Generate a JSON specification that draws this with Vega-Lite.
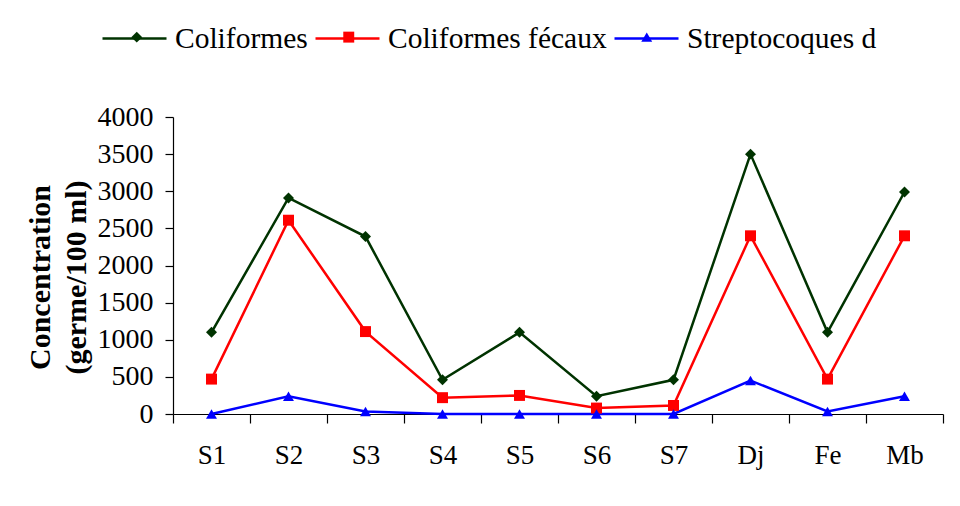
{
  "$schema": "https://vega.github.io/schema/vega-lite/v6.json",
  "width": 770,
  "height": 297,
  "autosize": {"type": "none"},
  "padding": {"left": 173, "top": 117, "right": 17, "bottom": 92},
  "background": "white",
  "config": {
    "view": {"stroke": null},
    "font": "Liberation Serif",
    "axis": {"grid": false, "labelFont": "Liberation Serif", "titleFont": "Liberation Serif", "labelColor": "black", "titleColor": "black", "domainColor": "black", "tickColor": "black", "domainWidth": 1.2, "tickWidth": 1.2}
  },
  "data": {
    "values": [
      {"site": "S1", "series": "Coliformes", "value": 1100},
      {"site": "S2", "series": "Coliformes", "value": 2910},
      {"site": "S3", "series": "Coliformes", "value": 2390},
      {"site": "S4", "series": "Coliformes", "value": 460},
      {"site": "S5", "series": "Coliformes", "value": 1100},
      {"site": "S6", "series": "Coliformes", "value": 240},
      {"site": "S7", "series": "Coliformes", "value": 460},
      {"site": "Dj", "series": "Coliformes", "value": 3500},
      {"site": "Fe", "series": "Coliformes", "value": 1100},
      {"site": "Mb", "series": "Coliformes", "value": 2990},
      {"site": "S1", "series": "Coliformes fécaux", "value": 470},
      {"site": "S2", "series": "Coliformes fécaux", "value": 2610},
      {"site": "S3", "series": "Coliformes fécaux", "value": 1110},
      {"site": "S4", "series": "Coliformes fécaux", "value": 220},
      {"site": "S5", "series": "Coliformes fécaux", "value": 250},
      {"site": "S6", "series": "Coliformes fécaux", "value": 80},
      {"site": "S7", "series": "Coliformes fécaux", "value": 115},
      {"site": "Dj", "series": "Coliformes fécaux", "value": 2400},
      {"site": "Fe", "series": "Coliformes fécaux", "value": 470},
      {"site": "Mb", "series": "Coliformes fécaux", "value": 2400},
      {"site": "S1", "series": "Streptocoques d", "value": 0},
      {"site": "S2", "series": "Streptocoques d", "value": 240},
      {"site": "S3", "series": "Streptocoques d", "value": 35},
      {"site": "S4", "series": "Streptocoques d", "value": 0},
      {"site": "S5", "series": "Streptocoques d", "value": 0},
      {"site": "S6", "series": "Streptocoques d", "value": 0},
      {"site": "S7", "series": "Streptocoques d", "value": 0},
      {"site": "Dj", "series": "Streptocoques d", "value": 450},
      {"site": "Fe", "series": "Streptocoques d", "value": 35},
      {"site": "Mb", "series": "Streptocoques d", "value": 240}
    ]
  },
  "encoding": {
    "x": {
      "field": "site", "type": "nominal",
      "scale": {"domain": ["S1","S2","S3","S4","S5","S6","S7","Dj","Fe","Mb"], "paddingInner": 0, "paddingOuter": 0},
      "axis": {"title": null, "labelAngle": 0, "labelFontSize": 27, "tickSize": 9, "labelPadding": 19, "tickBand": "extent"}
    },
    "y": {
      "field": "value", "type": "quantitative",
      "scale": {"domain": [0, 4000], "nice": false},
      "axis": {
        "values": [0,500,1000,1500,2000,2500,3000,3500,4000],
        "format": "d",
        "labelFontSize": 28, "tickSize": 8, "labelPadding": 12,
        "title": ["Concentration", "(germe/100 ml)"],
        "titleFontSize": 30, "titleFontWeight": "bold", "titleLineHeight": 36, "titlePadding": 6, "titleY": 160
      }
    }
  },
  "layer": [
    {
      "mark": {"type": "line", "strokeWidth": 2.5},
      "encoding": {
        "stroke": {"field": "series", "type": "nominal",
          "scale": {"domain": ["Streptocoques d","Coliformes fécaux","Coliformes"], "range": ["#0000FF","#FF0000","#003300"]},
          "legend": {"orient": "none", "direction": "horizontal", "legendX": -72, "legendY": -112, "title": null, "values": ["Coliformes","Coliformes fécaux","Streptocoques d"], "labelFontSize": 29.5, "labelFont": "Liberation Serif", "labelColor": "black", "labelLimit": 500, "labelOffset": 7, "columnPadding": 2, "symbolType": "stroke", "symbolSize": 4096, "symbolStrokeWidth": 2.5}}
      }
    },
    {
      "mark": {"type": "point", "filled": true, "opacity": 1, "size": 120},
      "encoding": {
        "color": {"field": "series", "type": "nominal",
          "scale": {"domain": ["Coliformes","Coliformes fécaux","Streptocoques d"], "range": ["#003300","#FF0000","#0000FF"]},
          "legend": {"orient": "none", "direction": "horizontal", "legendX": -51, "legendY": -95, "title": null, "labelFontSize": 29.5, "labelFont": "Liberation Serif", "labelColor": "black", "labelOpacity": 0, "labelLimit": 500, "labelOffset": 33.5, "columnPadding": 16, "symbolSize": 120, "symbolOpacity": 1}},
        "shape": {"field": "series", "type": "nominal",
          "scale": {"domain": ["Coliformes","Coliformes fécaux","Streptocoques d"], "range": ["diamond","square","triangle-up"]},
          "legend": {"orient": "none", "direction": "horizontal", "legendX": -51, "legendY": -95, "title": null, "labelFontSize": 29.5, "labelFont": "Liberation Serif", "labelColor": "black", "labelOpacity": 0, "labelLimit": 500, "labelOffset": 33.5, "columnPadding": 16, "symbolSize": 120, "symbolOpacity": 1}}
      }
    }
  ]
}
